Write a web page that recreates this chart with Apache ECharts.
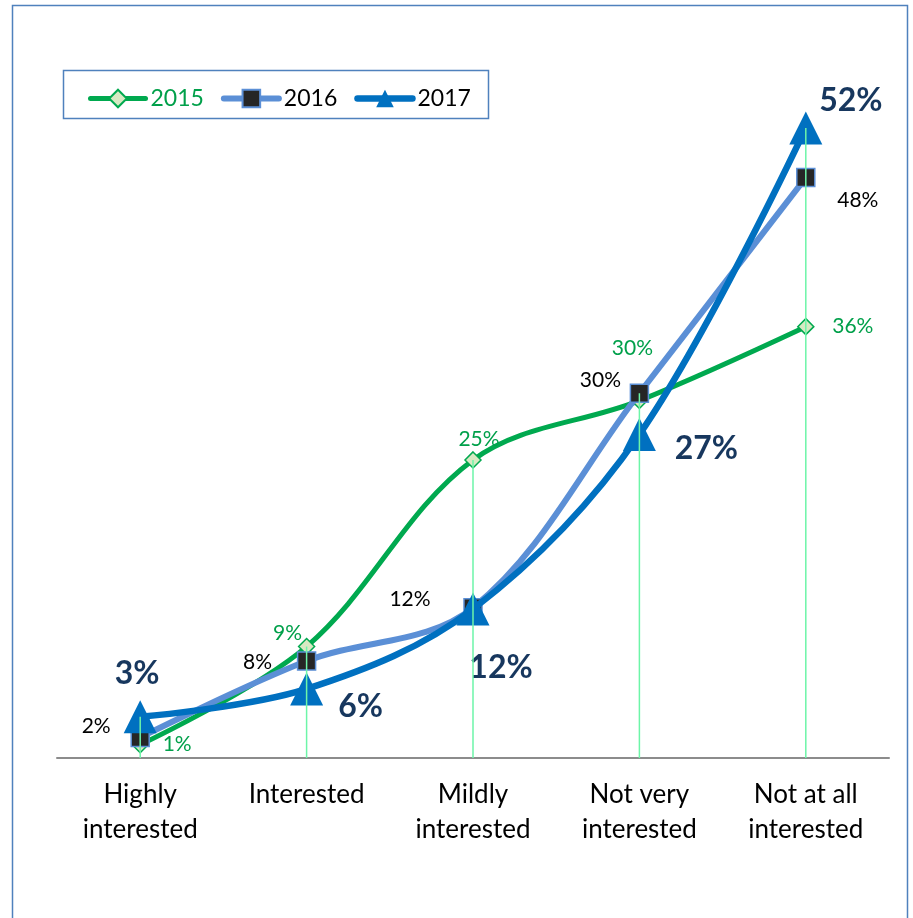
<!DOCTYPE html>
<html><head><meta charset="utf-8">
<script src="https://cdn.jsdelivr.net/npm/echarts@6/dist/echarts.min.js"></script>
<style>html,body{margin:0;padding:0;background:#fff}#c{width:913px;height:918px}</style>
</head><body><div id="c"></div>
<script>
const categories = ['Highly\ninterested', 'Interested', 'Mildly\ninterested', 'Not very\ninterested', 'Not at all\ninterested'];
const values2015 = [1.1, 9.2, 24.6, 29.5, 35.6];
const values2016 = [1.7, 8.0, 12.4, 30.1, 47.9];
const values2017 = [3.4, 5.7, 12.3, 26.7, 52.0];
const yTicks = [0, 60];

const FONT = 'Lato';
const off2015 = [[37, 0], [-19, -13], [6, -21], [-7, -52], [47, 0]];
const off2016 = [[-44, -11], [-49, 1], [-63, -9], [-39, -13], [52, 23]];
const off2017 = [[-3, -43], [54, 18], [28, 59], [67, 14], [45, -27]];

const fmt = p => Math.round(p.value) + '%';
function withLabels(vals, offs) {
  return vals.map((v, i) => ({ value: v, label: { offset: offs[i] } }));
}
const dropMax = categories.map((c, i) => Math.max(values2015[i], values2016[i], values2017[i]));

const chart = echarts.init(document.getElementById('c'), null, { renderer: 'canvas' });
chart.setOption({
  animation: false,
  backgroundColor: '#fff',
  graphic: [
    { type: 'rect', shape: { x: 12.5, y: 5.5, width: 895, height: 930 }, style: { fill: 'none', stroke: '#4F81BD', lineWidth: 1.5 }, z: 0 },
    { type: 'rect', shape: { x: 63.5, y: 70.5, width: 425, height: 48 }, style: { fill: 'none', stroke: '#4F81BD', lineWidth: 1.5 }, z: 0 }
  ],
  legend: {
    left: 83, top: 82, itemWidth: 55, itemHeight: 22, itemGap: 17,
    textStyle: { fontFamily: FONT, fontSize: 23 },
    data: [
      { name: '2015', textStyle: { color: '#00A04A' }, lineStyle: { width: 5, cap: 'round' } },
      { name: '2016', textStyle: { color: '#000' }, lineStyle: { width: 6, cap: 'round' } },
      { name: '2017', textStyle: { color: '#000' }, lineStyle: { width: 6.5, cap: 'round' } }
    ]
  },
  grid: { left: 57, right: 24, top: 31, bottom: 160 },
  xAxis: {
    type: 'category', data: categories, boundaryGap: true,
    axisLine: { lineStyle: { color: '#8C8C8C', width: 2 } },
    axisTick: { show: false },
    axisLabel: { fontFamily: FONT, fontSize: 26, color: '#000', margin: 19, lineHeight: 35, interval: 0 }
  },
  yAxis: {
    type: 'value', min: yTicks[0], max: yTicks[1], show: false, splitLine: { show: false }
  },
  series: [
    {
      name: 'drop', type: 'bar', data: dropMax, barWidth: 1.5, silent: true, z: 6,
      itemStyle: { color: '#6DF5A8' }, legendHoverLink: false
    },
    {
      name: '2015', type: 'line', data: withLabels(values2015, off2015), smooth: 0.35, z: 3,
      symbol: 'diamond', symbolSize: 16,
      lineStyle: { color: '#00A94F', width: 5 },
      itemStyle: { color: '#D7E9C3', borderColor: '#00A94F', borderWidth: 1.5 },
      label: { show: true, position: 'inside', formatter: fmt, fontFamily: FONT, fontSize: 21, color: '#00A04A' }
    },
    {
      name: '2016', type: 'line', data: withLabels(values2016, off2016), smooth: 0.35, z: 4,
      symbol: 'rect', symbolSize: 18,
      lineStyle: { color: '#5B8FD6', width: 6 },
      itemStyle: { color: '#262626', borderColor: '#5B8FD6', borderWidth: 1.5 },
      label: { show: true, position: 'inside', formatter: fmt, fontFamily: FONT, fontSize: 21, color: '#000' }
    },
    {
      name: '2017', type: 'line', data: withLabels(values2017, off2017), smooth: 0.35, z: 5,
      symbol: 'triangle', symbolSize: [33, 33],
      lineStyle: { color: '#0070C0', width: 6.5 },
      itemStyle: { color: '#0070C0', borderColor: '#0070C0', borderWidth: 0 },
      label: { show: true, position: 'inside', formatter: fmt, fontFamily: FONT, fontSize: 32, fontWeight: 'bold', color: '#17375E' }
    }
  ]
});
</script></body></html>
